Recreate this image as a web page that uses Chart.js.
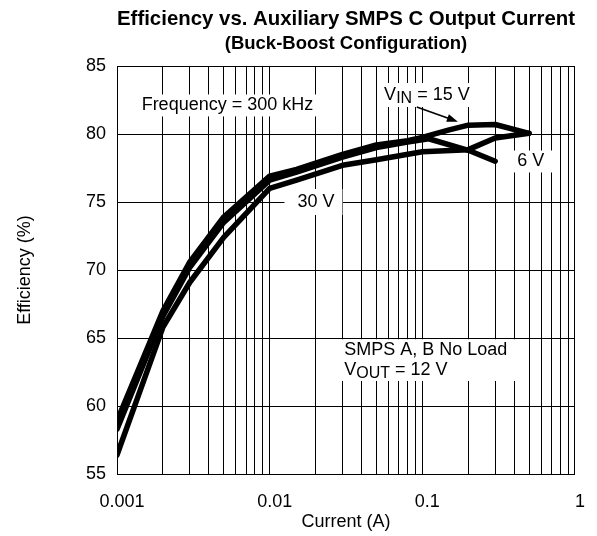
<!DOCTYPE html>
<html><head><meta charset="utf-8">
<script src="https://cdn.jsdelivr.net/npm/chart.js@4.4.1/dist/chart.umd.min.js"></script>
<style>html,body{margin:0;padding:0;background:#fff;} canvas{display:block;}</style>
</head><body>
<canvas id="c" width="597" height="536"></canvas>
<script>
const FONT = '"Liberation Sans", Arial, Helvetica, sans-serif';

// ---- data ----
const vin15Current = [0.001, 0.002, 0.003, 0.005, 0.01, 0.015, 0.03, 0.05, 0.08, 0.1, 0.15, 0.2, 0.3, 0.5];
const vin15Eff     = [58.9, 67.0, 70.6, 73.9, 76.9, 77.4, 78.5, 79.2, 79.5, 79.75, 80.3, 80.65, 80.7, 80.05];

const vin6Current  = [0.001, 0.002, 0.003, 0.005, 0.01, 0.015, 0.03, 0.05, 0.08, 0.11, 0.2, 0.3];
const vin6Eff      = [58.3, 66.6, 70.2, 73.5, 76.6, 77.2, 78.3, 79.0, 79.4, 79.65, 78.8, 78.0];

const vin30Current = [0.001, 0.002, 0.003, 0.005, 0.01, 0.015, 0.03, 0.05, 0.1, 0.2, 0.3, 0.5];
const vin30Eff     = [56.4, 65.8, 69.1, 72.4, 76.0, 76.6, 77.7, 78.1, 78.7, 78.85, 79.7, 80.05];

const xTickValues  = [0.001,0.002,0.003,0.004,0.005,0.006,0.007,0.008,0.009,
                      0.01,0.02,0.03,0.04,0.05,0.06,0.07,0.08,0.09,
                      0.1,0.2,0.3,0.4,0.5,0.6,0.7,0.8,0.9,1];
const xLabelValues = [0.001, 0.01, 0.1, 1];
const yTickValues  = [55, 60, 65, 70, 75, 80, 85];

const titleLine1 = 'Efficiency vs. Auxiliary SMPS C Output Current';
const titleLine2 = '(Buck-Boost Configuration)';
const xTitle = 'Current (A)';
const yTitle = 'Efficiency (%)';

// text notes placed in data coordinates (left edge, vertical middle)
const notes = [
  {parts:[{t:'Frequency = 300 kHz'}], x:0.00145, y:82.1, padL:4, padR:4, halfH:11},
  {parts:[{t:'V'},{t:'IN',sub:true},{t:' = 15 V'}], x:0.0562, y:82.87, padL:4, padR:4, halfH:12},
  {parts:[{t:'6 V'}], x:0.419, y:77.98, padL:5, padR:9, halfH:11},
  {parts:[{t:'30 V'}], x:0.0152, y:75.0, padL:13, padR:8, halfH:13},
  {parts:[{t:'SMPS A, B No Load'}], x:0.0308, y:64.1, padL:4, padR:10, halfH:11, boxRight:0.44},
  {parts:[{t:'V'},{t:'OUT',sub:true},{t:' = 12 V'}], x:0.0308, y:62.65, padL:4, padR:10, halfH:11, boxRight:0.44}
];
const arrowFrom = {x:0.0919, y:81.99};
const arrowTo   = {x:0.171,  y:80.9};

function pts(xs, ys) { return xs.map((x, i) => ({x: x, y: ys[i]})); }

function fontFor(p, n) {
  const base = n.size || 18;
  return (p.sub ? base - 2 : base) + 'px ' + FONT;
}
function richWidth(ctx, n) {
  let w = 0;
  n.parts.forEach(p => { ctx.font = fontFor(p, n); w += ctx.measureText(p.t).width; });
  return w;
}
function richDraw(ctx, n, x, y) {
  let cx = x;
  n.parts.forEach(p => {
    ctx.font = fontFor(p, n);
    ctx.fillText(p.t, cx, y + (p.sub ? 4 : 0));
    cx += ctx.measureText(p.t).width;
  });
}

const notesPlugin = {
  id: 'notes',
  beforeDatasetsDraw(chart) {
    const ctx = chart.ctx, xs = chart.scales.x, ys = chart.scales.y;
    ctx.save();
    ctx.textBaseline = 'middle';
    ctx.textAlign = 'left';
    notes.forEach(n => {
      const px = xs.getPixelForValue(n.x), py = ys.getPixelForValue(n.y);
      const w = richWidth(ctx, n);
      const left = px - n.padL;
      const right = n.boxRight ? xs.getPixelForValue(n.boxRight) : px + w + n.padR;
      ctx.fillStyle = '#fff';
      ctx.fillRect(left, py - n.halfH, right - left, 2 * n.halfH);
    });
    ctx.fillStyle = '#000';
    notes.forEach(n => {
      const px = xs.getPixelForValue(n.x), py = ys.getPixelForValue(n.y);
      richDraw(ctx, n, px, py);
    });
    ctx.restore();
  },
  afterDatasetsDraw(chart) {
    const ctx = chart.ctx, xs = chart.scales.x, ys = chart.scales.y;
    const x1 = xs.getPixelForValue(arrowFrom.x), y1 = ys.getPixelForValue(arrowFrom.y);
    const x2 = xs.getPixelForValue(arrowTo.x), y2 = ys.getPixelForValue(arrowTo.y);
    const ang = Math.atan2(y2 - y1, x2 - x1);
    const hl = 11, hw = 4;
    ctx.save();
    ctx.strokeStyle = '#000'; ctx.fillStyle = '#000'; ctx.lineWidth = 1.6;
    ctx.beginPath();
    ctx.moveTo(x1, y1);
    ctx.lineTo(x2 - Math.cos(ang) * hl * 0.8, y2 - Math.sin(ang) * hl * 0.8);
    ctx.stroke();
    ctx.beginPath();
    ctx.moveTo(x2, y2);
    ctx.lineTo(x2 - Math.cos(ang) * hl - Math.sin(ang) * hw, y2 - Math.sin(ang) * hl + Math.cos(ang) * hw);
    ctx.lineTo(x2 - Math.cos(ang) * hl + Math.sin(ang) * hw, y2 - Math.sin(ang) * hl - Math.cos(ang) * hw);
    ctx.closePath();
    ctx.fill();
    ctx.restore();
  }
};

const lineStyle = {
  borderColor: '#000', backgroundColor: '#000', borderWidth: 5.5,
  pointRadius: 0, fill: false, tension: 0,
  borderJoinStyle: 'round', borderCapStyle: 'round', clip: 0
};

new Chart(document.getElementById('c'), {
  type: 'line',
  data: {
    datasets: [
      Object.assign({label: 'VIN = 15 V', data: pts(vin15Current, vin15Eff)}, lineStyle),
      Object.assign({label: '6 V', data: pts(vin6Current, vin6Eff)}, lineStyle),
      Object.assign({label: '30 V', data: pts(vin30Current, vin30Eff)}, lineStyle)
    ]
  },
  options: {
    responsive: false,
    animation: false,
    devicePixelRatio: 1,
    layout: {padding: {left: 0, right: 17, top: 0, bottom: 0}},
    plugins: {
      legend: {display: false},
      tooltip: {enabled: false},
      title: {
        display: true, text: titleLine1, fullSize: false, color: '#000',
        font: {family: FONT, size: 20.5, weight: 'bold', lineHeight: 1.2},
        padding: {top: 7, bottom: 0}
      },
      subtitle: {
        display: true, text: titleLine2, fullSize: false, color: '#000',
        font: {family: FONT, size: 18.5, weight: 'bold', lineHeight: 1.2},
        padding: {top: 1, bottom: 11.2}
      }
    },
    scales: {
      x: {
        type: 'logarithmic', min: 0.001, max: 1,
        afterBuildTicks: s => { s.ticks = xTickValues.map(v => ({value: v})); },
        afterFit: s => { s.height = 62; },
        grid: {color: '#000', lineWidth: 1, drawTicks: false},
        border: {color: '#000', width: 1},
        ticks: {
          autoSkip: false, maxRotation: 0, minRotation: 0, padding: 17, labelOffset: 5, color: '#000',
          font: {family: FONT, size: 18},
          callback: v => xLabelValues.includes(v) ? String(v) : ''
        },
        title: {display: true, text: xTitle, color: '#000', font: {family: FONT, size: 18}, padding: {top: 0, bottom: 3}}
      },
      y: {
        min: 55, max: 85,
        afterBuildTicks: s => { s.ticks = yTickValues.map(v => ({value: v})); },
        afterFit: s => { s.width = 117; },
        grid: {color: '#000', lineWidth: 1, drawTicks: false},
        border: {color: '#000', width: 1},
        ticks: {padding: 11, color: '#000', font: {family: FONT, size: 18}},
        title: {display: true, text: yTitle, color: '#000', font: {family: FONT, size: 18}, padding: {top: 14, bottom: 0}}
      }
    }
  },
  plugins: [notesPlugin]
});
</script>
</body></html>
